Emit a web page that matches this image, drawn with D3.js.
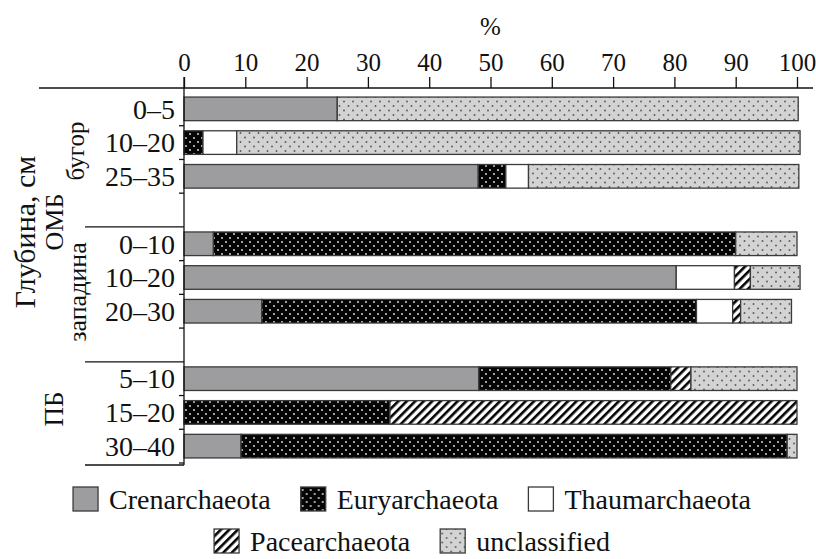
<!DOCTYPE html>
<html>
<head>
<meta charset="utf-8">
<script src="https://cdn.jsdelivr.net/npm/d3@7"></script>
<style>
  body { margin: 0; background: #fff; }
  svg { display: block; }
  text { font-family: "Liberation Serif", "Times New Roman", serif; fill: #111; }
</style>
</head>
<body>
<svg id="chart" width="816" height="559"></svg>
<script>
// Depth intervals (cm) and the site each belongs to
const depthLabels = ["0–5", "10–20", "25–35", "0–10", "10–20", "20–30", "5–10", "15–20", "30–40"];
const siteGroups  = ["бугор", "бугор", "бугор", "западина", "западина", "западина", "ПБ", "ПБ", "ПБ"];

// Share of archaeal phyla, %
const seriesNames    = ["Crenarchaeota", "Euryarchaeota", "Thaumarchaeota", "Pacearchaeota", "unclassified"];
const crenarchaeota  = [25,   0,    48,   4.8,  80.3, 12.7, 48.1, 0,    9.3];
const euryarchaeota  = [0,    3.1,  4.5,  85.2, 0,    70.9, 31.3, 33.6, 89.1];
const thaumarchaeota = [0,    5.5,  3.7,  0,    9.5,  5.9,  0,    0,    0];
const pacearchaeota  = [0,    0,    0,    0,    2.6,  1.3,  3.3,  66.4, 0];
const unclassified   = [75.2, 91.9, 44.1, 10,   8.1,  8.3,  17.3, 0,    1.6];

const xTicks = [0, 10, 20, 30, 40, 50, 60, 70, 80, 90, 100];

const rows = depthLabels.map((d, i) => ({
  key: siteGroups[i] + " " + d,
  depth: d,
  site: siteGroups[i],
  Crenarchaeota: crenarchaeota[i],
  Euryarchaeota: euryarchaeota[i],
  Thaumarchaeota: thaumarchaeota[i],
  Pacearchaeota: pacearchaeota[i],
  unclassified: unclassified[i]
}));

// band slots: rows of each site, with an empty slot between sites
const sites = Array.from(new Set(siteGroups));
const slots = [];
sites.forEach((s, gi) => {
  rows.filter(r => r.site === s).forEach(r => slots.push(r.key));
  if (gi < sites.length - 1) slots.push("gap" + gi);
});

const svg = d3.select("#chart");

const x = d3.scaleLinear().domain([0, 100]).range([184, 797]);
const y = d3.scaleBand().domain(slots).range([92, 463]).paddingInner(0.3).paddingOuter(0.15);

// ---- fill patterns
const defs = svg.append("defs");

const eury = defs.append("pattern").attr("id", "p-eury").attr("patternUnits", "userSpaceOnUse")
  .attr("width", 8).attr("height", 8);
eury.append("rect").attr("width", 8).attr("height", 8).attr("fill", "#050505");
eury.append("circle").attr("cx", 2).attr("cy", 2).attr("r", 0.9).attr("fill", "#e8e8e8");
eury.append("circle").attr("cx", 6).attr("cy", 6).attr("r", 0.9).attr("fill", "#e8e8e8");

const uncl = defs.append("pattern").attr("id", "p-uncl").attr("patternUnits", "userSpaceOnUse")
  .attr("width", 9).attr("height", 9);
uncl.append("rect").attr("width", 9).attr("height", 9).attr("fill", "#d3d3d3");
uncl.append("circle").attr("cx", 2).attr("cy", 2.5).attr("r", 0.95).attr("fill", "#5a5a5a");
uncl.append("circle").attr("cx", 6.5).attr("cy", 7).attr("r", 0.95).attr("fill", "#5a5a5a");

const pace = defs.append("pattern").attr("id", "p-pace").attr("patternUnits", "userSpaceOnUse")
  .attr("width", 6).attr("height", 6).attr("patternTransform", "rotate(45)");
pace.append("rect").attr("width", 6).attr("height", 6).attr("fill", "#fff");
pace.append("rect").attr("x", 0).attr("width", 2.6).attr("height", 6).attr("fill", "#000");

const fills = {
  Crenarchaeota: "#9d9d9f",
  Euryarchaeota: "url(#p-eury)",
  Thaumarchaeota: "#ffffff",
  Pacearchaeota: "url(#p-pace)",
  unclassified: "url(#p-uncl)"
};

// ---- stacked bars
const stacked = d3.stack().keys(seriesNames)(rows);

svg.append("g").selectAll("g")
  .data(stacked)
  .join("g")
  .attr("fill", d => fills[d.key])
  .selectAll("rect")
  .data(d => d.filter(p => p[1] - p[0] > 0))
  .join("rect")
  .attr("x", p => x(p[0]))
  .attr("width", p => x(p[1]) - x(p[0]))
  .attr("y", p => y(p.data.key))
  .attr("height", y.bandwidth())
  .attr("stroke", "#3a3a3a")
  .attr("stroke-width", 1.3);

// ---- top axis
const axisY = 88;
const xAxis = d3.axisTop(x).tickValues(xTicks).tickSize(11).tickSizeOuter(0).tickPadding(6);
const gx = svg.append("g").attr("transform", `translate(0,${axisY})`).call(xAxis);
gx.select(".domain").remove();
gx.selectAll(".tick line").attr("stroke", "#111").attr("stroke-width", 1.3);
gx.selectAll(".tick text").attr("font-size", 25).attr("font-family", "Liberation Serif").attr("fill", "#111");

svg.append("line").attr("x1", 39).attr("x2", 813).attr("y1", axisY).attr("y2", axisY)
  .attr("stroke", "#111").attr("stroke-width", 1.3);

svg.append("text").attr("x", x(50)).attr("y", 35).attr("text-anchor", "middle")
  .attr("font-size", 25).text("%");

// ---- left axis
const halfGap = y.step() * y.paddingInner() / 2;
svg.append("line").attr("x1", x(0)).attr("x2", x(0)).attr("y1", axisY - 11).attr("y2", 465)
  .attr("stroke", "#111").attr("stroke-width", 1.3);

// short ticks below each bar
svg.append("g").selectAll("line")
  .data(rows)
  .join("line")
  .attr("x1", x(0) - 5).attr("x2", x(0))
  .attr("y1", d => y(d.key) + y.bandwidth() + halfGap)
  .attr("y2", d => y(d.key) + y.bandwidth() + halfGap)
  .attr("stroke", "#111").attr("stroke-width", 1.3);

// long separators between sites and at the bottom
const sepYs = slots.filter(s => s.startsWith("gap")).map(s => y(s) + y.bandwidth() + halfGap);
sepYs.push(465);
svg.append("g").selectAll("line")
  .data(sepYs)
  .join("line")
  .attr("x1", 85).attr("x2", x(0))
  .attr("y1", d => d).attr("y2", d => d)
  .attr("stroke", "#111").attr("stroke-width", 1.3);

// depth labels
svg.append("g").selectAll("text")
  .data(rows)
  .join("text")
  .attr("x", 175)
  .attr("y", d => y(d.key) + y.bandwidth() / 2)
  .attr("dy", "0.35em")
  .attr("text-anchor", "end")
  .attr("font-size", 28)
  .text(d => d.depth);

// rotated group titles
function vlabel(text, bx, cy, size) {
  svg.append("text")
    .attr("transform", `translate(${bx},${cy}) rotate(-90)`)
    .attr("text-anchor", "middle")
    .attr("font-size", size)
    .text(text);
}
vlabel("Глубина, см", 35, 232, 30);
vlabel("ОМБ", 63, 222, 26);
vlabel("бугор", 84, 151, 25);
vlabel("западина", 86, 292, 26);
vlabel("ПБ", 63, 409, 27);

// ---- legend
const legendRows = [["Crenarchaeota", "Euryarchaeota", "Thaumarchaeota"], ["Pacearchaeota", "unclassified"]];
const legendY = [499, 541];
const legendCenter = 412;
legendRows.forEach((names, ri) => {
  const g = svg.append("g");
  let cx = 0;
  names.forEach((n, i) => {
    const item = g.append("g").attr("transform", `translate(${cx},0)`);
    item.append("rect").attr("x", 0).attr("y", legendY[ri] - 12).attr("width", 25).attr("height", 24)
      .attr("fill", fills[n]).attr("stroke", "#3a3a3a").attr("stroke-width", 1.3);
    const t = item.append("text").attr("x", 36).attr("y", legendY[ri]).attr("dy", "0.35em")
      .attr("font-size", 28).text(n);
    cx += 36 + t.node().getComputedTextLength() + 30;
  });
  const total = cx - 30;
  g.attr("transform", `translate(${legendCenter - total / 2},0)`);
});
</script>
</body>
</html>
